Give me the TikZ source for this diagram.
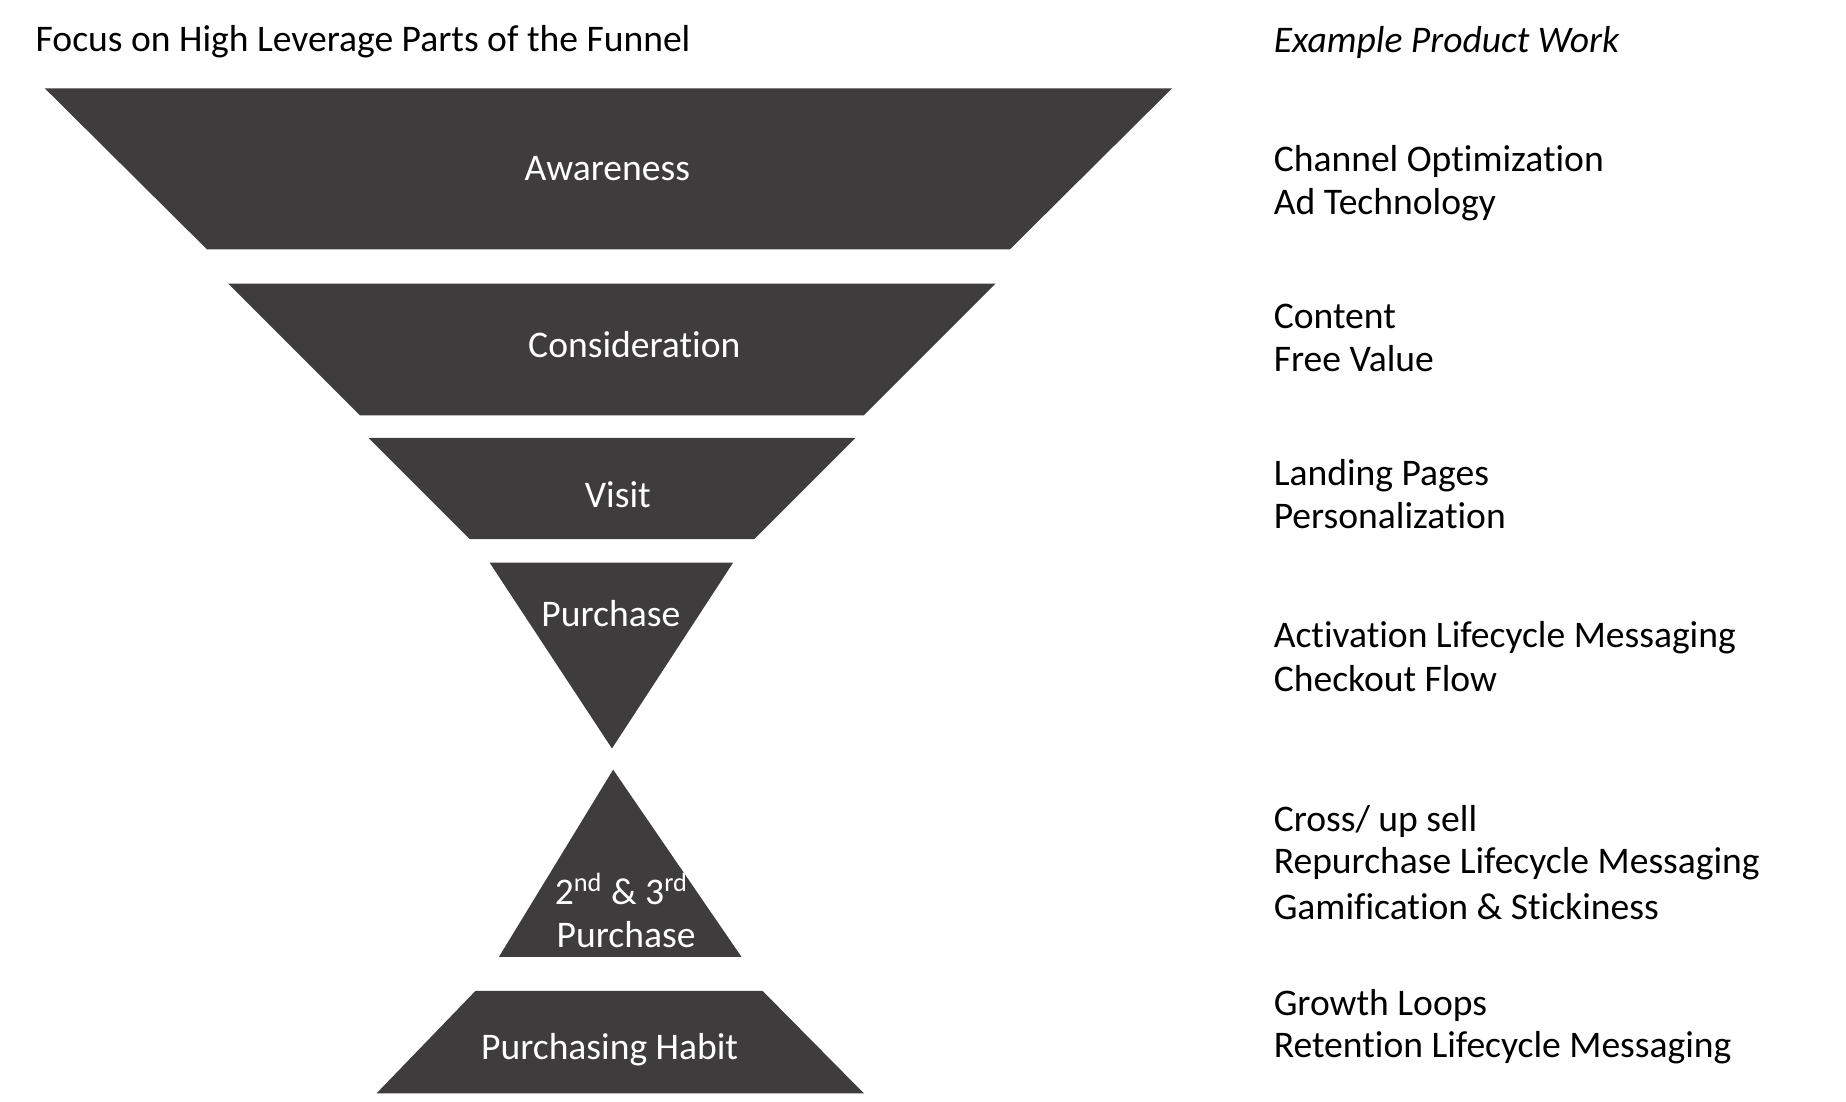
\documentclass[tikz,border=0pt]{standalone}
\usepackage{fontspec}
\setmainfont[Ligatures=NoCommon]{Carlito}
\definecolor{funnel}{HTML}{3E3C3D}
\begin{document}
\begin{tikzpicture}[x=0.5917pt,y=-0.5917pt,
  stage/.style={fill=funnel,draw=none},
  lbl/.style={text=white,font=\fontsize{18.9pt}{21.8pt}\selectfont,anchor=base,inner sep=0pt},
  work/.style={text=black,font=\fontsize{18.9pt}{21.8pt}\selectfont,anchor=base west,inner sep=0pt}]
\useasboundingbox (0,0) rectangle (1568.6,935.7);
% funnel stages
\fill[stage] (38,75) -- (996,75) -- (858,212) -- (176,212) -- cycle;
\fill[stage] (194,241) -- (846,241) -- (734,353) -- (306,353) -- cycle;
\fill[stage] (313,372) -- (727,372) -- (641,458) -- (399,458) -- cycle;
\fill[stage] (416,478) -- (623,478) -- (520,636) -- cycle;
\fill[stage] (521,654) -- (630,813) -- (424,813) -- cycle;
\fill[stage] (404,842) -- (648,842) -- (734,929) -- (320,929) -- cycle;
% stage labels
\node[lbl] (aw) at (516,153.5) {Awareness};
\node[lbl] (co) at (539,303.5) {Consideration};
\node[lbl] (vi) at (525,431.5) {Visit};
\node[lbl] (pu) at (519,532.5) {Purchase};
\node[lbl] (sr) at (528,768.5) {2\textsuperscript{nd} \& 3\textsuperscript{rd}};
\node[lbl] (sp) at (532,805.5) {Purchase};
\node[lbl] (ph) at (518,900.5) {Purchasing Habit};
% titles
\node[work] (title) at (30,43.5) {Focus on High Leverage Parts of the Funnel};
\node[work,font=\fontsize{18.9pt}{21.8pt}\selectfont\itshape] (ex) at (1082,44.5) {Example Product Work};
% product work
\node[work] (w1) at (1082,145.5) {Channel Optimization};
\node[work] (w2) at (1082,182.5) {Ad Technology};
\node[work] (w3) at (1082,279.5) {Content};
\node[work] (w4) at (1082,315.5) {Free Value};
\node[work] (w5) at (1082,412.5) {Landing Pages};
\node[work] (w6) at (1082,449.5) {Personalization};
\node[work] (w7) at (1082,550.5) {Activation Lifecycle Messaging};
\node[work] (w8) at (1082,587.5) {Checkout Flow};
\node[work] (w9) at (1082,706.5) {Cross/ up sell};
\node[work] (w10) at (1082,742.5) {Repurchase Lifecycle Messaging};
\node[work] (w11) at (1082,781.5) {Gamification \& Stickiness};
\node[work] (w12) at (1082,862.5) {Growth Loops};
\node[work] (w13) at (1082,898.5) {Retention Lifecycle Messaging};
\end{tikzpicture}
\end{document}
